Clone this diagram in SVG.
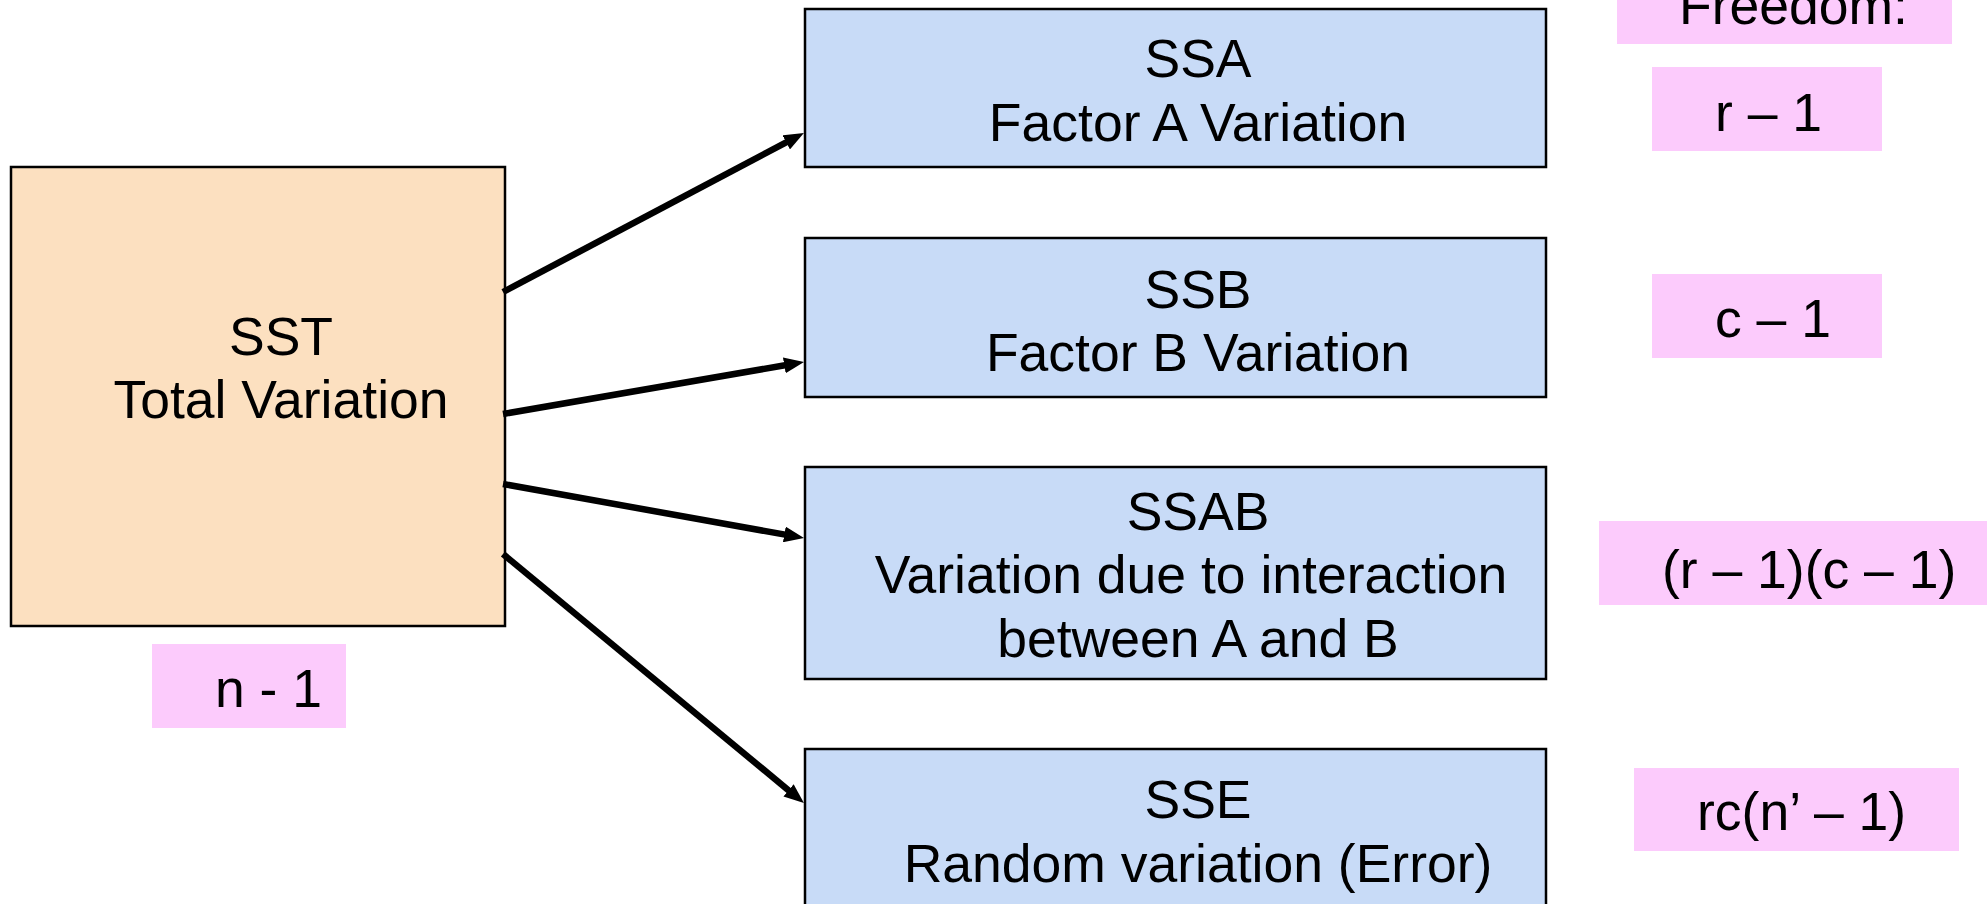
<svg xmlns="http://www.w3.org/2000/svg" width="1987" height="904" viewBox="0 0 1987 904">
  <defs>
    <marker id="arrowhead" markerUnits="userSpaceOnUse" markerWidth="20" markerHeight="16" refX="8" refY="8" orient="auto">
      <path d="M0,0 L20,8 L0,16 Z" fill="#000"/>
    </marker>
    <style>
      text { font-family: "Liberation Sans", Arial, sans-serif; font-size: 53.5px; fill: #000; }
      .total { fill: #FCE0C0; stroke: #000; stroke-width: 2.5; }
      .part { fill: #C8DBF7; stroke: #000; stroke-width: 2.5; }
      .df { fill: #FCCBFC; stroke: none; }
      .mid { text-anchor: middle; }
      .link { stroke: #000; stroke-width: 6.5; fill: none; marker-end: url(#arrowhead); }
    </style>
  </defs>

  <rect width="1987" height="904" fill="#fff"/>

  <!-- total variation -->
  <g id="sst">
    <rect class="total" x="11" y="167" width="494" height="459"/>
    <text class="mid" x="281" y="355">SST</text>
    <text class="mid" x="281" y="418">Total Variation</text>
  </g>
  <g id="df-total">
    <rect class="df" x="152" y="644" width="194" height="84"/>
    <text x="215" y="707">n - 1</text>
  </g>

  <!-- components -->
  <g id="ssa">
    <rect class="part" x="805" y="9" width="741" height="158"/>
    <text class="mid" x="1198" y="77">SSA</text>
    <text class="mid" x="1198" y="141">Factor A Variation</text>
  </g>
  <g id="ssb">
    <rect class="part" x="805" y="238" width="741" height="159"/>
    <text class="mid" x="1198" y="308">SSB</text>
    <text class="mid" x="1198" y="371">Factor B Variation</text>
  </g>
  <g id="ssab">
    <rect class="part" x="805" y="467" width="741" height="212"/>
    <text class="mid" x="1198" y="530">SSAB</text>
    <text class="mid" x="1191" y="593">Variation due to interaction</text>
    <text class="mid" x="1198" y="657">between A and B</text>
  </g>
  <g id="sse">
    <rect class="part" x="805" y="749" width="741" height="200"/>
    <text class="mid" x="1198" y="818">SSE</text>
    <text class="mid" x="1198" y="882">Random variation (Error)</text>
  </g>

  <!-- degrees of freedom -->
  <g id="df-heading">
    <rect class="df" x="1617" y="0" width="335" height="44"/>
    <text x="1679" y="24">Freedom:</text>
  </g>
  <g id="df-a">
    <rect class="df" x="1652" y="67" width="230" height="84"/>
    <text x="1715" y="131">r – 1</text>
  </g>
  <g id="df-b">
    <rect class="df" x="1652" y="274" width="230" height="84"/>
    <text x="1715" y="337">c – 1</text>
  </g>
  <g id="df-ab">
    <rect class="df" x="1599" y="521" width="390" height="84"/>
    <text x="1662" y="588">(r – 1)(c – 1)</text>
  </g>
  <g id="df-e">
    <rect class="df" x="1634" y="768" width="325" height="83"/>
    <text x="1697" y="830">rc(n’ – 1)</text>
  </g>

  <!-- connectors -->
  <g id="connectors">
    <line class="link" x1="503" y1="292" x2="793.3" y2="138.6"/>
    <line class="link" x1="503" y1="414" x2="792.2" y2="364.0"/>
    <line class="link" x1="503" y1="484" x2="792.2" y2="535.9"/>
    <line class="link" x1="503" y1="554" x2="794.7" y2="795.4"/>
  </g>
</svg>
